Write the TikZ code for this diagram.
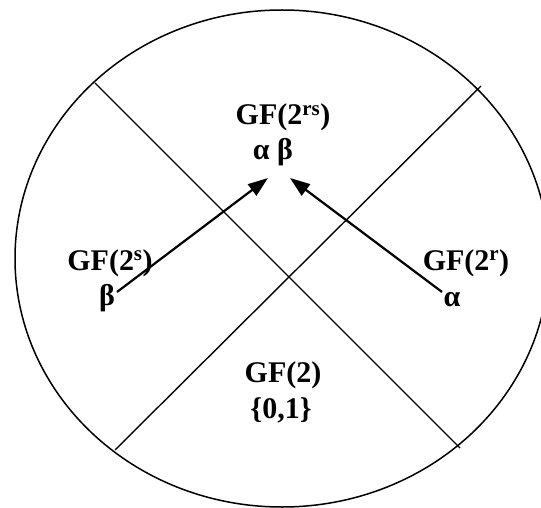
\documentclass[tikz,border=0pt]{standalone}
\usepackage{fontspec}
\setmainfont{Liberation Serif}
\usetikzlibrary{arrows.meta}
\begin{document}
\begin{tikzpicture}[x=1pt,y=-1pt,
  lbl/.style={anchor=base,inner sep=0pt,font=\fontsize{30}{34}\selectfont\bfseries},
  divline/.style={line width=1.4pt},
  arr/.style={line width=2.2pt,-{Triangle[length=20pt,width=14pt]}}]
\useasboundingbox (0,0) rectangle (541,508);
\begin{scope}
\clip (0,0) rectangle (541,508);
\draw[line width=1.5pt] (282,258.5) ellipse [x radius=267, y radius=248.5];
\end{scope}
\coordinate (d1a) at (95,83);
\coordinate (d1b) at (460,448);
\coordinate (d2a) at (481,86);
\coordinate (d2b) at (115,450);
\draw[divline] (d1a) -- (d1b);
\draw[divline] (d2a) -- (d2b);
\node[lbl] (top1) at (283,125) {GF(2\textsuperscript{rs})};
\node[lbl] (top2) at (273,160) {α β};
\node[lbl] (left1) at (110,270) {GF(2\textsuperscript{s})};
\node[lbl] (left2) at (107,305) {β};
\node[lbl] (right1) at (466,270) {GF(2\textsuperscript{r})};
\node[lbl] (right2) at (452,306) {α};
\node[lbl] (bot1) at (283,382) {GF(2)};
\node[lbl] (bot2) at (281,418) {\{0,1\}};
\coordinate (la) at (117,292);
\coordinate (lt) at (268,178);
\coordinate (ra) at (442,292);
\coordinate (rt) at (290,178);
\draw[arr] (la) -- (lt);
\draw[arr] (ra) -- (rt);
\end{tikzpicture}
\end{document}
